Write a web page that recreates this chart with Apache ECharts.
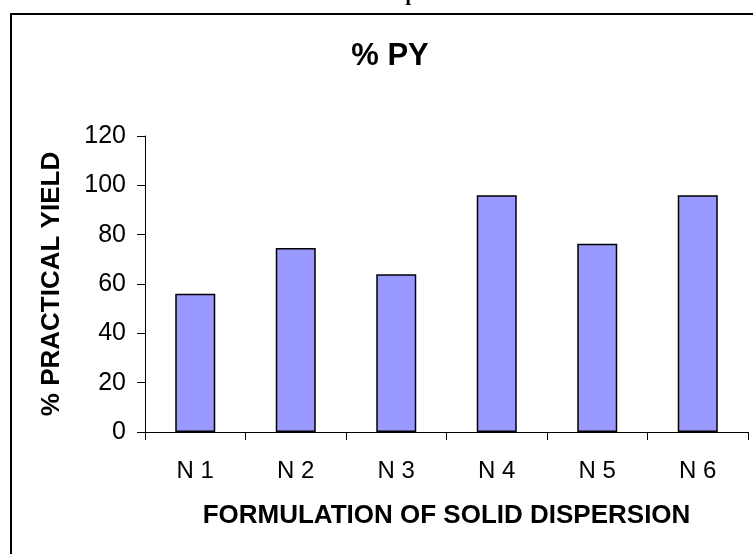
<!DOCTYPE html>
<html>
<head>
<meta charset="utf-8">
<script src="https://cdn.jsdelivr.net/npm/echarts@6/dist/echarts.min.js"></script>
<style>
  html, body { margin: 0; padding: 0; background: #fff; }
  #chart { width: 753px; height: 554px; }
</style>
</head>
<body>
<div id="chart"></div>
<script>
// Practical yield of each solid-dispersion formulation
const formulations = ['N 1', 'N 2', 'N 3', 'N 4', 'N 5', 'N 6'];
const practicalYield = [56, 74.6, 64, 96, 76.3, 96];
const yTicks = { min: 0, max: 120, step: 20 };

const chart = echarts.init(document.getElementById('chart'), null, { renderer: 'canvas' });

const sans = 'Arial, "Liberation Sans", sans-serif';

chart.setOption({
  animation: false,
  backgroundColor: '#fff',
  title: {
    text: '% PY',
    left: 385,
    top: 36,
    textAlign: 'center',
    textStyle: { fontFamily: sans, fontWeight: 'bold', fontSize: 31, color: '#000' }
  },
  grid: { left: 145, right: 5, top: 136, bottom: 122, containLabel: false },
  xAxis: {
    type: 'category',
    data: formulations,
    name: 'FORMULATION OF SOLID DISPERSION',
    nameLocation: 'middle',
    nameGap: 71,
    nameTextStyle: { fontFamily: sans, fontWeight: 'bold', fontSize: 26, color: '#000' },
    axisLine: { lineStyle: { color: '#000', width: 1 } },
    axisTick: { show: true, alignWithLabel: false, length: 8, lineStyle: { color: '#000' } },
    axisLabel: { fontFamily: sans, fontSize: 24, color: '#000', margin: 27 },
    splitLine: { show: false }
  },
  yAxis: {
    type: 'value',
    min: yTicks.min,
    max: yTicks.max,
    interval: yTicks.step,
    name: '% PRACTICAL YIELD',
    nameLocation: 'middle',
    nameGap: 80,
    nameTextStyle: { fontFamily: sans, fontWeight: 'bold', fontSize: 26, color: '#000' },
    axisLine: { show: true, lineStyle: { color: '#000', width: 1 } },
    axisTick: { show: true, length: 8, lineStyle: { color: '#000' } },
    axisLabel: { fontFamily: sans, fontSize: 25, color: '#000', margin: 19 },
    splitLine: { show: false }
  },
  series: [{
    type: 'bar',
    data: practicalYield,
    barWidth: 40,
    itemStyle: { color: '#9999FF', borderColor: '#000', borderWidth: 1.5 }
  }],
  graphic: [
    {
      type: 'rect',
      silent: true,
      shape: { x: 11, y: 14, width: 800, height: 600 },
      style: { fill: 'none', stroke: '#000', lineWidth: 2 }
    },
    {
      type: 'text',
      silent: true,
      style: {
        text: 'p',
        x: 411,
        y: -15,
        align: 'center',
        verticalAlign: 'top',
        font: 'bold 20px "Liberation Serif", serif',
        fill: '#000'
      }
    }
  ]
});
</script>
</body>
</html>
